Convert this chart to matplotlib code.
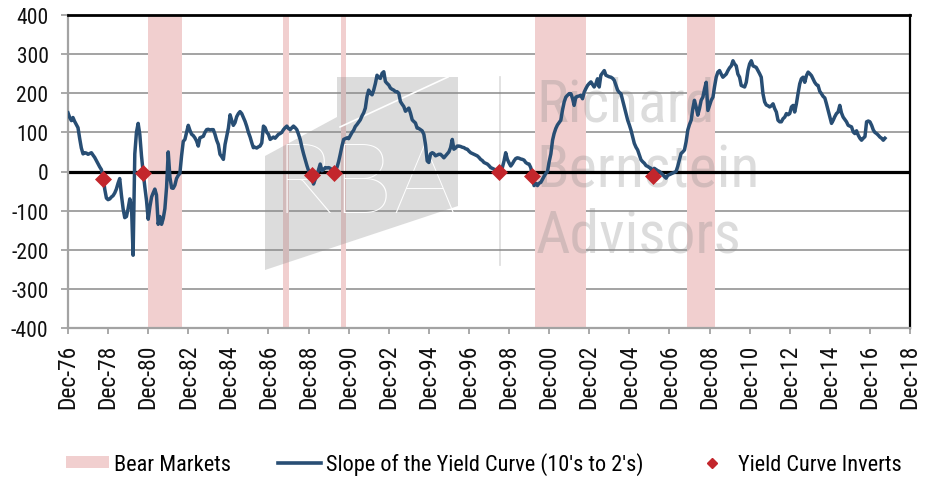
import numpy as np
import pandas as pd
import matplotlib
matplotlib.use("Agg")
import matplotlib.pyplot as plt
import matplotlib.dates as mdates
from matplotlib import font_manager as fm
from matplotlib.patches import Polygon, Patch
from matplotlib.lines import Line2D

# ---------------- data ----------------
slope_start = "1976-12-01"   # monthly series, 10y minus 2y (bp)
slope_values = [
    150,
    138, 130, 138, 128, 120, 112, 85, 60, 45, 48, 47, 44,              # 1977
    46, 48, 42, 36, 28, 20, 12, 5, -12, -45, -68, -72,                 # 1978
    -70, -65, -62, -55, -45, -30, -18, -60, -95, -118, -115, -95,      # 1979
    -70, -90, -214, 45, 100, 123, 95, 40, -3, -40, -75, -122,          # 1980
    -90, -65, -55, -45, -60, -135, -115, -135, -120, -95, -40, 50,     # 1981
    -15, -42, -43, -35, -18, -10, -5, 40, 77, 82, 100, 118,            # 1982
    105, 95, 92, 86, 78, 65, 86, 88, 90, 100, 107, 108,                # 1983
    106, 107, 107, 95, 80, 69, 44, 38, 31, 69, 90, 111,                # 1984
    145, 130, 118, 125, 140, 148, 153, 148, 138, 128, 115, 100,        # 1985
    88, 73, 61, 62, 60, 63, 65, 73, 116, 112, 100, 95,                 # 1986
    82, 85, 88, 85, 90, 95, 97, 100, 107, 112, 116, 110,               # 1987
    107, 112, 116, 112, 107, 95, 82, 62, 45, 30, 15, 2,                # 1988
    -2, -12, -32, -20, -10, 5, 19, 2, 5, 10, 9, 10,                    # 1989
    8, 3, -3, 5, 10, 25, 44, 65, 82, 84, 86, 84,                       # 1990
    92, 100, 105, 115, 120, 126, 132, 142, 150, 162, 192, 208,         # 1991
    200, 196, 208, 225, 246, 240, 238, 251, 255, 230, 225, 221,        # 1992
    213, 210, 208, 204, 204, 200, 179, 172, 166, 154, 158, 162,        # 1993
    149, 132, 128, 124, 111, 110, 107, 104, 95, 69, 27, 23,            # 1994
    45, 48, 46, 40, 42, 44, 44, 40, 35, 40, 45, 50,                    # 1995
    61, 82, 57, 60, 65, 65, 64, 62, 61, 58, 57, 52,                    # 1996
    48, 46, 44, 42, 40, 36, 31, 28, 23, 21, 19, 15,                    # 1997
    10, 8, 6, 4, 2, 0, 5, 10, 27, 48, 31, 22,                          # 1998
    14, 20, 27, 33, 35, 34, 32, 31, 29, 23, 20, 19,                    # 1999
    10, -12, -36, -30, -36, -30, -28, -20, -12, -5, 0, 25,             # 2000
    45, 80, 97, 110, 119, 125, 131, 157, 178, 190, 195, 199,           # 2001
    199, 186, 169, 190, 192, 193, 195, 186, 203, 212, 220, 225,        # 2002
    229, 222, 216, 224, 237, 216, 246, 252, 258, 246, 244, 242,        # 2003
    241, 238, 233, 220, 208, 202, 199, 182, 165, 148, 131, 119,        # 2004
    105, 88, 72, 62, 55, 42, 30, 25, 21, 15, 13, 10,                   # 2005
    8, -12, 8, 5, 2, 0, -4, -8, -13, -17, -10, -8,                     # 2006
    -6, -4, -2, 0, 13, 30, 46, 50, 55, 76, 106, 120,                   # 2007
    131, 161, 182, 165, 144, 161, 182, 190, 211, 228, 156, 169,        # 2008
    182, 190, 216, 241, 254, 258, 249, 241, 245, 249, 258, 265,        # 2009
    270, 283, 275, 270, 249, 241, 220, 218, 216, 228, 258, 275,        # 2010
    283, 270, 268, 266, 258, 250, 241, 199, 178, 170, 168, 165,        # 2011
    168, 173, 161, 152, 131, 127, 127, 135, 139, 148, 145, 148,        # 2012
    165, 169, 152, 173, 199, 224, 237, 241, 228, 245, 254, 250,        # 2013
    245, 236, 228, 222, 220, 205, 199, 192, 188, 173, 156, 139,        # 2014
    123, 131, 140, 148, 152, 169, 150, 139, 133, 127, 118, 116,        # 2015
    114, 101, 97, 104, 93, 85, 80, 85, 89, 127, 129, 127,              # 2016
    118, 106, 100, 97, 93, 88, 85, 80, 85,                             # 2017
]

bear_starts = ["1980-11-28", "1987-08-25", "1990-07-16", "2000-03-24", "2007-10-09"]
bear_ends = ["1982-08-12", "1987-12-04", "1990-10-11", "2002-10-09", "2009-03-09"]

invert_dates = ["1978-09-01", "1980-09-01", "1989-02-01", "1990-03-01",
                "1998-06-01", "2000-02-01", "2006-02-01"]
invert_values = [-18, -3, -10, -3, -2, -12, -12]

y_ticks = [-400, -300, -200, -100, 0, 100, 200, 300, 400]
x_tick_start, x_tick_end = "1976-12-01", "2018-12-01"

legend_labels = ["Bear Markets", "Slope of the Yield Curve (10's to 2's)", "Yield Curve Inverts"]
watermark_lines = ["Richard", "Bernstein", "Advisors"]

# ---------------- style ----------------
PINK = "#f1cfcf"
BLUE = "#284e74"
RED = "#c3262c"
GRID = "#a3a3a3"

plt.rcParams["axes.unicode_minus"] = False

# look for a condensed sans (Arial Narrow-like); else Liberation Sans
cond_path = None
pref = ["Liberation Sans Narrow", "Arial Narrow", "Roboto Condensed", "Open Sans Condensed",
        "Noto Sans", "DejaVu Sans"]
cands = []
for f in fm.fontManager.ttflist:
    st = str(f.stretch).lower()
    is_cond = ("narrow" in f.name.lower() or "condensed" in f.name.lower()
               or st in ("condensed", "semi-condensed"))
    w = f.weight if isinstance(f.weight, (int, float)) else 400
    if is_cond and f.style == "normal" and w == 400:
        rank = next((i for i, n in enumerate(pref) if f.name.startswith(n)), len(pref))
        cands.append((rank, f.fname))
if cands:
    cands.sort()
    cond_path = cands[0][1]

if cond_path:
    def tfp(size):
        return fm.FontProperties(fname=cond_path, size=size)
    X_SZ, Y_SZ, L_SZ, W_SZ = 17, 15.5, 16, 43
else:
    def tfp(size):
        return fm.FontProperties(family=["Liberation Sans", "DejaVu Sans"], size=size)
    X_SZ, Y_SZ, L_SZ, W_SZ = 14.3, 14, 14.8, 38
plt.rcParams["font.family"] = ["Liberation Sans", "DejaVu Sans"]

# light font for the logo letters
light_path, best = None, None
for f in fm.fontManager.ttflist:
    if f.name in ("Roboto", "Lato", "Open Sans", "Inter", "Noto Sans") and f.style == "normal":
        w = f.weight if isinstance(f.weight, (int, float)) else 400
        score = abs(w - 250)
        if best is None or score < best:
            best, light_path = score, f.fname
logo_fp = fm.FontProperties(fname=light_path, size=71) if light_path else tfp(71)

W, H = 928, 481
fig = plt.figure(figsize=(W / 100, H / 100), dpi=100)
ax = fig.add_axes([68 / W, 1 - 329 / H, (910 - 68) / W, (329 - 16) / H])

def fp(x, y):
    return (x / W, 1 - y / H)

dates = pd.date_range(slope_start, periods=len(slope_values), freq="MS")

# bear market bands
for s, e in zip(bear_starts, bear_ends):
    ax.axvspan(pd.Timestamp(s), pd.Timestamp(e), facecolor=PINK, edgecolor="none", zorder=1)

# watermark (logo)
logo = Polygon([fp(265, 157), fp(337, 118), fp(337, 78), fp(458, 78), fp(458, 207), fp(265, 271)],
               closed=True, transform=fig.transFigure, facecolor="#8c8c8c", alpha=0.3,
               edgecolor="none", zorder=1.5, clip_on=False)
ax.add_patch(logo)
ax.add_line(Line2D([fp(340, 128)[0], fp(448, 78)[0]], [fp(340, 128)[1], fp(448, 78)[1]],
                   transform=fig.transFigure, color="white", lw=1.2, zorder=1.55, clip_on=False))
ax.text(*fp(366, 213), "RBA", transform=fig.transFigure, fontproperties=logo_fp,
        color="white", ha="center", va="baseline", zorder=1.6, clip_on=False)
ax.add_line(Line2D([500 / W, 500 / W], [fp(0, 78)[1], fp(0, 266)[1]], transform=fig.transFigure,
                   color="#8c8c8c", alpha=0.3, lw=1.2, zorder=1.6, clip_on=False))
for txt, base in zip(watermark_lines, [122, 188, 253]):
    ax.text(*fp(536, base), txt, transform=fig.transFigure, fontproperties=tfp(W_SZ),
            color="#8c8c8c", alpha=0.3, ha="left", va="baseline", zorder=1.6, clip_on=False)

# zero line
ax.axhline(0, color="black", lw=2.3, zorder=2)

# series
ax.plot(dates, slope_values, color=BLUE, lw=2.5, zorder=3, solid_joinstyle="round")
ax.plot(pd.to_datetime(invert_dates), invert_values, ls="none", marker="D", markersize=7.8,
        color=RED, markeredgecolor=RED, markeredgewidth=0.5, zorder=4)

# axes
ax.set_ylim(-400, 400)
ax.set_yticks(y_ticks)
ax.set_xlim(pd.Timestamp(x_tick_start), pd.Timestamp(x_tick_end))
ax.set_xticks(pd.date_range(x_tick_start, x_tick_end, freq="24MS"))
ax.xaxis.set_major_formatter(mdates.DateFormatter("%b-%y"))
ax.set_axisbelow(True)
ax.yaxis.grid(True, color=GRID, lw=1.4)
ax.xaxis.grid(False)

ax.tick_params(axis="x", direction="out", length=4, width=1.3, color=GRID, pad=7,
               labelcolor="#111111", labelrotation=90)
ax.tick_params(axis="y", direction="out", length=5, width=1.3, color=GRID, pad=9,
               labelcolor="#111111")
for lab in ax.get_xticklabels():
    lab.set_fontproperties(tfp(X_SZ))
for lab in ax.get_yticklabels():
    lab.set_fontproperties(tfp(Y_SZ))

ax.spines["top"].set_color("black")
ax.spines["top"].set_linewidth(2.0)
ax.spines["right"].set_color("black")
ax.spines["right"].set_linewidth(1.6)
ax.spines["left"].set_color(GRID)
ax.spines["left"].set_linewidth(1.6)
ax.spines["bottom"].set_color(GRID)
ax.spines["bottom"].set_linewidth(1.6)

# legend
em = L_SZ * 100 / 72
handles = [Patch(facecolor=PINK, edgecolor="none"),
           Line2D([], [], color=BLUE, lw=2.6),
           Line2D([], [], ls="none", marker="D", markersize=5.5, color=RED)]
fig.legend(handles, legend_labels, loc="center left", bbox_to_anchor=fp(66, 465), ncol=3,
           frameon=False, prop=tfp(L_SZ),
           handlelength=43 / em, handletextpad=5 / em, columnspacing=47 / em, borderpad=0,
           borderaxespad=0, handleheight=0.45, numpoints=1)

fig.savefig("out.png", dpi=100)
